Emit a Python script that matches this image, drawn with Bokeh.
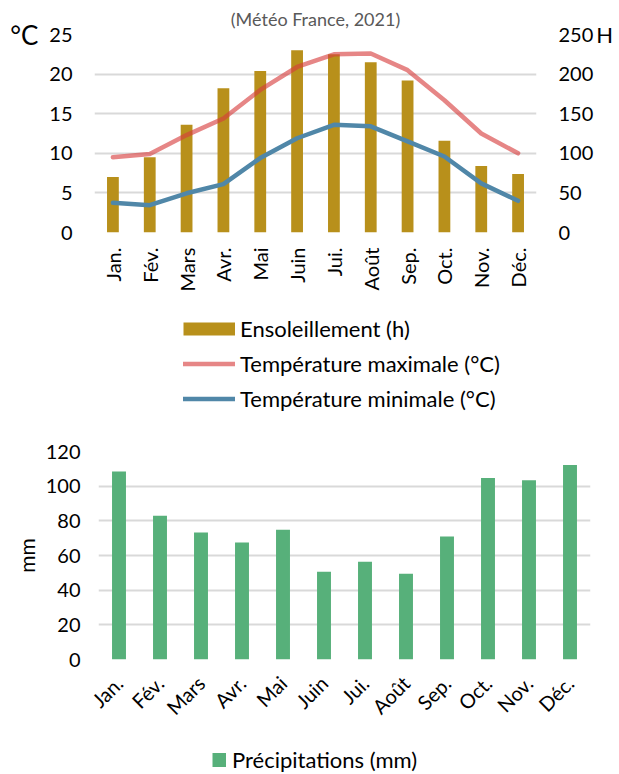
import math
from bokeh.plotting import figure
from bokeh.models import (Range1d, LinearAxis, Legend, LegendItem,
                          FixedTicker, ColumnDataSource, Title)
from bokeh.layouts import column, row
from bokeh.embed import file_html
from bokeh.resources import INLINE

# ---- data ----
months = ["Jan.", "Fév.", "Mars", "Avr.", "Mai", "Juin",
          "Jui.", "Août", "Sep.", "Oct.", "Nov.", "Déc."]
sunshine_h = [70, 95, 136, 182, 204, 230, 225, 215, 192, 116, 84, 74]
temp_max = [9.5, 9.9, 12.3, 14.4, 18.0, 20.9, 22.5, 22.6, 20.5, 16.7, 12.5, 10.0]
temp_min = [3.75, 3.45, 4.95, 6.1, 9.4, 11.9, 13.6, 13.4, 11.5, 9.6, 6.2, 4.0]
precip_mm = [108.5, 83, 73.2, 67.5, 74.9, 50.6, 56.4, 49.5, 70.9, 104.7, 103.4, 112.2]
temp_ticks = [0, 5, 10, 15, 20, 25]
hours_ticks = [0, 50, 100, 150, 200, 250]
precip_ticks = [0, 20, 40, 60, 80, 100, 120]

FONT = "Lato"
GRID = "#D9D9D9"
SUN_COLOR = "#B8901B"
TMAX_COLOR = "#D63B3B"
TMIN_COLOR = "#5087A8"
RAIN_COLOR = "#57B07A"

src = ColumnDataSource(dict(month=months, sun=sunshine_h, tmax=temp_max,
                            tmin=temp_min, precip=precip_mm))


def style_axis(ax, standoff):
    ax.axis_line_color = None
    ax.major_tick_line_color = None
    ax.minor_tick_line_color = None
    ax.major_tick_out = 0
    ax.major_tick_in = 0
    ax.major_label_standoff = standoff
    ax.major_label_text_font = FONT
    ax.major_label_text_font_size = "20px"
    ax.major_label_text_color = "black"
    ax.axis_label_text_font = FONT
    ax.axis_label_text_font_style = "normal"
    ax.axis_label_text_color = "black"


def legend_figure(height):
    # legend-only panel: the same series are drawn here, but the visible
    # y range lies below all of them, so only the legend swatches show
    f = figure(width=619, height=height, x_range=months, y_range=Range1d(-600, -300),
               x_axis_type=None, y_axis_type=None,
               min_border=0, min_border_left=0, min_border_right=0,
               min_border_top=0, min_border_bottom=0,
               output_backend="svg", toolbar_location=None)
    f.grid.visible = False
    f.outline_line_color = None
    return f


# ---- top chart ----
p1 = figure(x_range=months, y_range=Range1d(0, 25), width=619, height=302,
            output_backend="svg", toolbar_location=None,
            min_border_left=94, min_border_right=83,
            min_border_top=32, min_border_bottom=70)
p1.outline_line_color = None
p1.title = Title(text="(Météo France, 2021)", align="center", offset=-12,
                 text_font=FONT, text_font_size="18px", text_font_style="normal",
                 text_color="#595959", standoff=10)
p1.extra_y_ranges = {"h": Range1d(0, 250)}
right_axis = LinearAxis(y_range_name="h")
p1.add_layout(right_axis, "right")

p1.vbar(x="month", top="sun", width=0.32, source=src, y_range_name="h",
        fill_color=SUN_COLOR, line_color=None)
p1.line(x="month", y="tmax", source=src, line_color=TMAX_COLOR,
        line_alpha=0.62, line_width=4.5, line_join="round", line_cap="round")
p1.line(x="month", y="tmin", source=src, line_color=TMIN_COLOR,
        line_width=4.5, line_join="round", line_cap="round")

p1.xgrid.visible = False
p1.ygrid.grid_line_color = GRID
p1.ygrid.grid_line_width = 2
p1.ygrid.ticker = FixedTicker(ticks=temp_ticks)
left_axis = p1.left[0]
left_axis.ticker = FixedTicker(ticks=temp_ticks)
right_axis.ticker = FixedTicker(ticks=hours_ticks)

style_axis(p1.xaxis[0], 15)
p1.xaxis[0].major_label_orientation = math.pi / 2
style_axis(left_axis, 22)
style_axis(right_axis, 22)

left_axis.axis_label = "°C"
left_axis.axis_label_text_font_size = "26px"
left_axis.axis_label_orientation = "horizontal"
left_axis.axis_label_align = "end"
left_axis.axis_label_standoff = 8
right_axis.axis_label = "H"
right_axis.axis_label_text_font_size = "22px"
right_axis.axis_label_orientation = "horizontal"
right_axis.axis_label_align = "end"
right_axis.axis_label_standoff = 0

# ---- legend of the top chart ----
lg1 = legend_figure(118)
sw_sun = lg1.line(x="month", y="sun", source=src,
                  line_color=SUN_COLOR, line_width=13, line_cap="butt")
sw_max = lg1.line(x="month", y="tmax", source=src,
                  line_color=TMAX_COLOR, line_alpha=0.62, line_width=4.5,
                  line_cap="round")
sw_min = lg1.line(x="month", y="tmin", source=src,
                  line_color=TMIN_COLOR, line_width=4.5, line_cap="round")
leg1 = Legend(items=[LegendItem(label="Ensoleillement (h)", renderers=[sw_sun]),
                     LegendItem(label="Température maximale (°C)", renderers=[sw_max]),
                     LegendItem(label="Température minimale (°C)", renderers=[sw_min])],
              location=(183, 8), orientation="vertical",
              glyph_width=52, glyph_height=17, label_standoff=5, spacing=8,
              padding=0, margin=0, border_line_color=None, background_fill_alpha=0,
              label_text_font=FONT, label_text_font_size="22px",
              label_text_color="black")
lg1.add_layout(leg1, "center")

# ---- bottom chart ----
p2 = figure(x_range=months, y_range=Range1d(0, 120), width=619, height=310,
            output_backend="svg", toolbar_location=None,
            min_border_left=98, min_border_right=29,
            min_border_top=31, min_border_bottom=70)
p2.outline_line_color = None
p2.vbar(x="month", top="precip", width=0.34, source=src,
        fill_color=RAIN_COLOR, line_color=None)
p2.xgrid.visible = False
p2.ygrid.grid_line_color = GRID
p2.ygrid.grid_line_width = 2
p2.ygrid.ticker = FixedTicker(ticks=precip_ticks)
p2.yaxis[0].ticker = FixedTicker(ticks=precip_ticks)
style_axis(p2.xaxis[0], 20)
p2.xaxis[0].major_label_orientation = math.pi / 4
style_axis(p2.yaxis[0], 18)
p2.yaxis[0].axis_label = "mm"
p2.yaxis[0].axis_label_text_font_size = "21px"
p2.yaxis[0].axis_label_standoff = 4

# ---- legend of the bottom chart ----
lg2 = legend_figure(44)
sw_rain = lg2.line(x="month", y="precip", source=src,
                   line_color=RAIN_COLOR, line_width=14, line_cap="butt")
leg2 = Legend(items=[LegendItem(label="Précipitations (mm)", renderers=[sw_rain])],
              location=(212, 1), orientation="vertical",
              glyph_width=14, glyph_height=17, label_standoff=6,
              padding=0, margin=0, border_line_color=None, background_fill_alpha=0,
              label_text_font=FONT, label_text_font_size="22px",
              label_text_color="black")
lg2.add_layout(leg2, "center")

layout = column(row(p1), row(lg1), row(p2), row(lg2))
open("out.html", "w").write(file_html(layout, INLINE))
